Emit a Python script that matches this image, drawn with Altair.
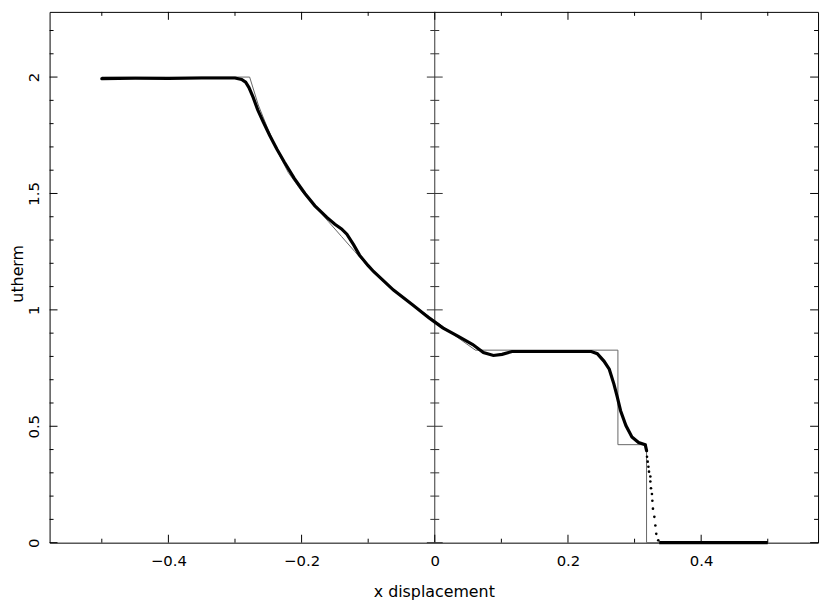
import altair as alt
import pandas as pd

# SPH particle curve
sph_x = [-0.500, -0.450, -0.400, -0.350, -0.300, -0.290, -0.284, -0.279, -0.273, -0.266,
         -0.258, -0.248, -0.237, -0.226, -0.211, -0.195, -0.180, -0.162, -0.150, -0.140,
         -0.132, -0.122, -0.113, -0.100, -0.092, -0.062, -0.033, -0.009, 0.012, 0.036,
         0.057, 0.073, 0.088, 0.101, 0.116, 0.135, 0.184, 0.235, 0.244, 0.254,
         0.262, 0.269, 0.274, 0.279, 0.287, 0.296, 0.306, 0.316, 0.318]
sph_y = [1.993, 1.995, 1.994, 1.996, 1.996, 1.990, 1.978, 1.955, 1.915, 1.860,
         1.810, 1.750, 1.690, 1.635, 1.565, 1.500, 1.447, 1.397, 1.368, 1.348,
         1.325, 1.280, 1.235, 1.190, 1.165, 1.085, 1.021, 0.966, 0.923, 0.885,
         0.851, 0.817, 0.804, 0.809, 0.821, 0.821, 0.821, 0.821, 0.812, 0.780,
         0.745, 0.681, 0.626, 0.567, 0.503, 0.454, 0.430, 0.421, 0.395]

# isolated particles in the shock
dot_x = [0.3187, 0.3197, 0.3208, 0.3217, 0.3237, 0.3237, 0.3246, 0.3261, 0.3267,
         0.3276, 0.3297, 0.3312, 0.3326, 0.3356]
dot_y = [0.369, 0.348, 0.326, 0.305, 0.284, 0.263, 0.234, 0.209, 0.180,
         0.146, 0.111, 0.074, 0.038, 0.010]

# undisturbed right state
tail_x = [0.337, 0.420, 0.500]
tail_y = [0.0, 0.0, 0.0]

# analytic solution (thin line)
exact_x = [-0.500, -0.278, -0.265, -0.251, -0.235, -0.220, -0.200, -0.180, -0.160,
           -0.140, -0.120, -0.100, -0.075, -0.050, -0.025, 0.000, 0.030, 0.061,
           0.275, 0.275, 0.318, 0.318, 0.500]
exact_y = [2.000, 2.000, 1.880, 1.780, 1.675, 1.590, 1.510, 1.445, 1.380,
           1.315, 1.250, 1.185, 1.120, 1.060, 1.005, 0.955, 0.890, 0.827,
           0.827, 0.421, 0.421, 0.000, 0.000]

x_major = [-0.4, -0.2, 0, 0.2, 0.4]
x_minor = [-0.5, -0.3, -0.1, 0.1, 0.3, 0.5]
y_major = [0, 0.5, 1, 1.5, 2]
y_minor = [0.1, 0.2, 0.3, 0.4, 0.6, 0.7, 0.8, 0.9, 1.1, 1.2, 1.3, 1.4,
           1.6, 1.7, 1.8, 1.9, 2.1, 2.2]

X_DOM = [-0.5784, 0.5755]
Y_DOM = [0, 2.28]
W, H = 776, 536
FONT = "DejaVu Sans"

xs = alt.Scale(domain=X_DOM, nice=False, zero=False)
ys = alt.Scale(domain=Y_DOM, nice=False, zero=False)

x_axis = alt.Axis(
    values=x_major, format="~g", ticks=False, tickSize=0, domain=False, grid=False,
    labelPadding=11, labelFontSize=15, title="x displacement",
    titleX=W / 2, titleY=49, titleAlign="center", titleBaseline="middle")
y_axis = alt.Axis(
    values=y_major, format="~g", ticks=False, tickSize=0, domain=False, grid=False,
    labelAngle=270, labelAlign="center", labelBaseline="bottom", labelPadding=8,
    labelFontSize=15, title="utherm", titleAngle=270, titleX=-32, titleY=H / 2 - 4,
    titleAlign="center", titleBaseline="middle")


def X(field):
    return alt.X(field, scale=xs, axis=x_axis, title="x displacement")


def Y(field):
    return alt.Y(field, scale=ys, axis=y_axis, title="utherm")


sph = pd.DataFrame({"x": sph_x, "y": sph_y, "i": range(len(sph_x))})
tail = pd.DataFrame({"x": tail_x, "y": tail_y, "i": range(len(tail_x))})
dots = pd.DataFrame({"x": dot_x, "y": dot_y})
exact = pd.DataFrame({"x": exact_x, "y": exact_y, "i": range(len(exact_x))})

exact_layer = alt.Chart(exact).mark_line(color="#666666", strokeWidth=1).encode(
    x=X("x:Q"), y=Y("y:Q"), order=alt.Order("i:Q"))
sph_layer = alt.Chart(sph).mark_line(color="black", strokeWidth=3.2, strokeCap="round").encode(
    x=X("x:Q"), y=Y("y:Q"), order=alt.Order("i:Q"))
tail_layer = alt.Chart(tail).mark_line(color="black", strokeWidth=3.2).encode(
    x=X("x:Q"), y=Y("y:Q"), order=alt.Order("i:Q"))
dot_layer = alt.Chart(dots).mark_circle(color="black", size=7, opacity=1).encode(
    x=X("x:Q"), y=Y("y:Q"))

mid_line = alt.Chart(pd.DataFrame({"v": [0]})).mark_rule(color="#333333", strokeWidth=1).encode(
    x=X("v:Q"))


def xticks(vals, length):
    d = pd.DataFrame({"v": vals})
    b = alt.Chart(d).mark_rule(color="black").encode(
        x=X("v:Q"), y=alt.value(H), y2=alt.value(H - length))
    t = alt.Chart(d).mark_rule(color="black").encode(
        x=X("v:Q"), y=alt.value(0), y2=alt.value(length))
    return [b, t]


def yticks(vals, length, mid):
    d = pd.DataFrame({"v": vals})
    l = alt.Chart(d).mark_rule(color="black").encode(
        y=Y("v:Q"), x=alt.value(0), x2=alt.value(length))
    r = alt.Chart(d).mark_rule(color="black").encode(
        y=Y("v:Q"), x=alt.value(W), x2=alt.value(W - length))
    m = alt.Chart(d).mark_rule(color="#333333", xOffset=-mid, x2Offset=mid).encode(
        y=Y("v:Q"), x=alt.datum(0, scale=xs, axis=x_axis), x2=alt.datum(0))
    return [l, r, m]


layers = [exact_layer, mid_line]
layers += xticks(x_major, 8) + xticks(x_minor, 4)
layers += yticks(y_major, 8, 8) + yticks(y_minor, 4, 4.5)
layers += [sph_layer, tail_layer, dot_layer]

chart = alt.layer(*layers).properties(
    width=W, height=H,
    autosize=alt.AutoSizeParams(type="none"),
    padding={"left": 42, "top": 1, "right": 4, "bottom": 58},
    background="white",
).configure_view(stroke="black", strokeWidth=1).configure_axis(
    labelFont=FONT, titleFont=FONT, labelColor="black", titleColor="black",
    titleFontWeight="normal", titleFontSize=16, labelFontSize=15,
)

chart.save("out.html", embed_options={"renderer": "svg", "actions": False})
